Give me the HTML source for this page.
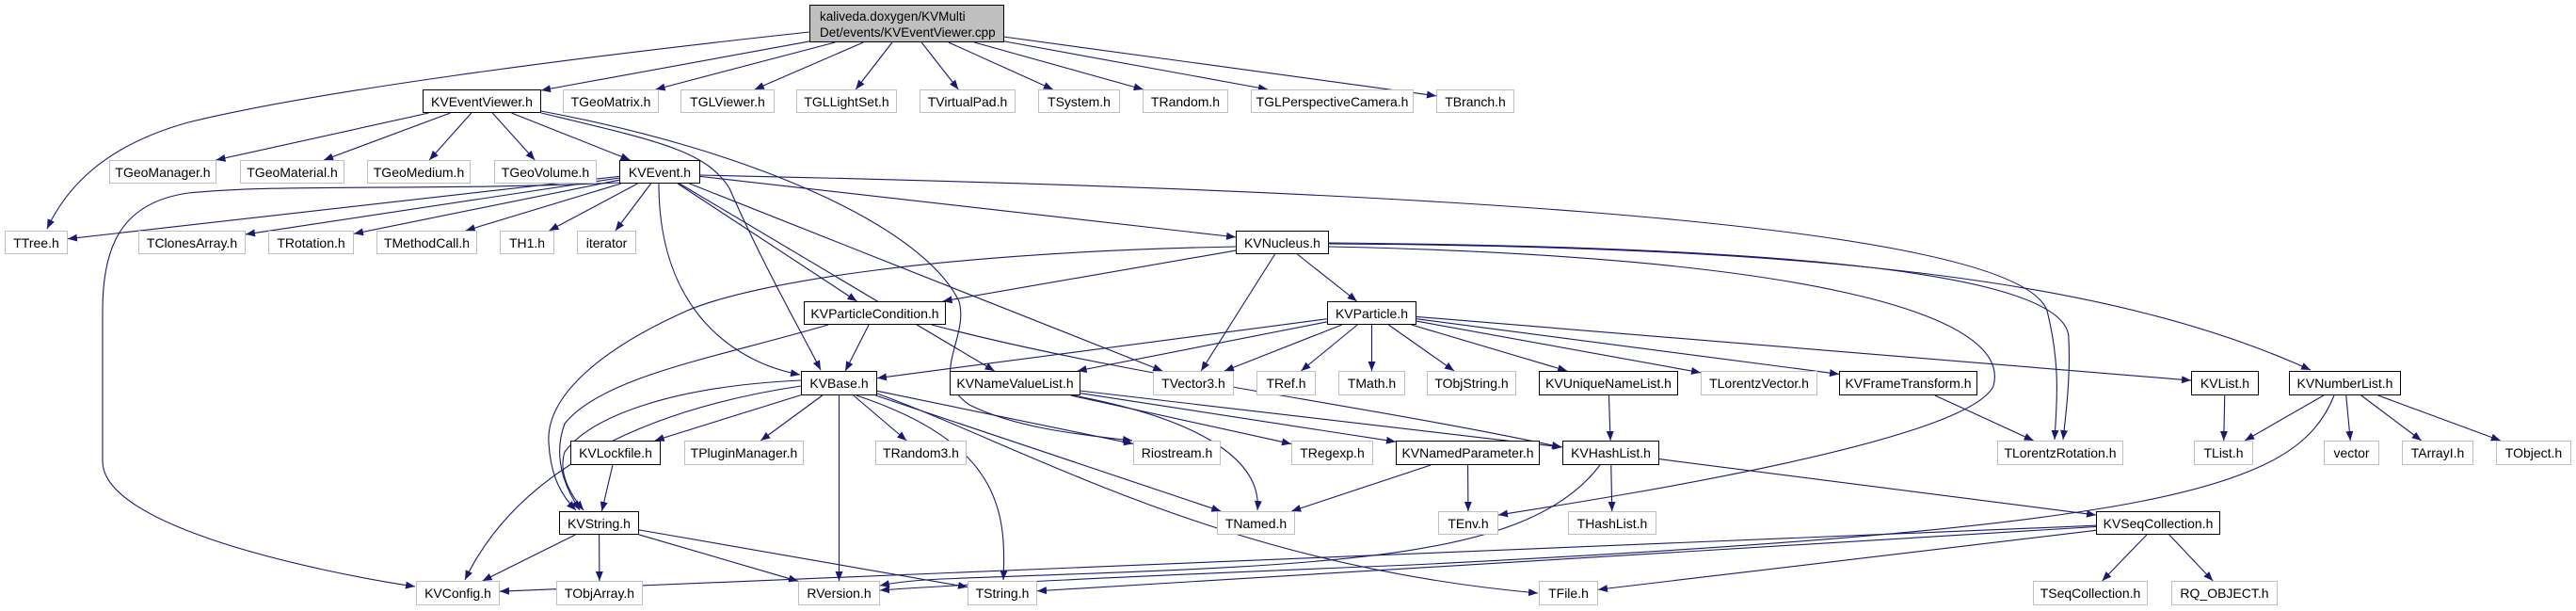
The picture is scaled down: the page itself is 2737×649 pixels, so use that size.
<!DOCTYPE html>
<html><head><meta charset="utf-8">
<style>
html,body{margin:0;padding:0;background:#fff;}
#c{position:relative;width:2737px;height:649px;overflow:hidden;background:#fff;}
svg{position:absolute;left:0;top:0;}
.n{position:absolute;box-sizing:border-box;border:1px solid #bfbfbf;background:#fff;font-family:"Liberation Sans",Arial,sans-serif;font-size:14px;color:#000;text-align:center;white-space:nowrap;display:flex;align-items:center;justify-content:center;}
.k{border:1px solid #000;}
</style></head><body>
<div id="c">
<svg id="s" width="2737" height="649" viewBox="0 0 2737 649">
<defs><marker id="a" markerWidth="10" markerHeight="8" refX="10" refY="4" orient="auto" markerUnits="userSpaceOnUse"><path d="M0,0 L10,4 L0,8 z" fill="#191970"/></marker></defs>
<g id="g" fill="none" stroke="#191970" stroke-width="1.1"></g>
</svg>
<div class="n k" style="left:860px;top:5px;width:207px;height:40px;background:#bfbfbf;display:block;text-align:left;padding:3px 0 0 10px;line-height:17px;font-size:13.5px">kaliveda.doxygen/KVMulti<br>Det/events/KVEventViewer.cpp</div>

<div class="n k" id="KVEventViewer" style="left:449px;top:95px;width:126px;height:25px">KVEventViewer.h</div>
<div class="n" id="TGeoMatrix" style="left:598px;top:95px;width:102px;height:25px">TGeoMatrix.h</div>
<div class="n" id="TGLViewer" style="left:723px;top:95px;width:100px;height:25px">TGLViewer.h</div>
<div class="n" id="TGLLightSet" style="left:846px;top:95px;width:107px;height:25px">TGLLightSet.h</div>
<div class="n" id="TVirtualPad" style="left:977px;top:95px;width:102px;height:25px">TVirtualPad.h</div>
<div class="n" id="TSystem" style="left:1103px;top:95px;width:87px;height:25px">TSystem.h</div>
<div class="n" id="TRandom" style="left:1214px;top:95px;width:91px;height:25px">TRandom.h</div>
<div class="n" id="TGLPerspectiveCamera" style="left:1329px;top:95px;width:173px;height:25px">TGLPerspectiveCamera.h</div>
<div class="n" id="TBranch" style="left:1526px;top:95px;width:83px;height:25px">TBranch.h</div>

<div class="n" id="TGeoManager" style="left:116px;top:170px;width:114px;height:25px">TGeoManager.h</div>
<div class="n" id="TGeoMaterial" style="left:255px;top:170px;width:111px;height:25px">TGeoMaterial.h</div>
<div class="n" id="TGeoMedium" style="left:390px;top:170px;width:110px;height:25px">TGeoMedium.h</div>
<div class="n" id="TGeoVolume" style="left:525px;top:170px;width:109px;height:25px">TGeoVolume.h</div>
<div class="n k" id="KVEvent" style="left:658px;top:170px;width:86px;height:25px">KVEvent.h</div>

<div class="n" id="TTree" style="left:5px;top:245px;width:67px;height:25px">TTree.h</div>
<div class="n" id="TClonesArray" style="left:147px;top:245px;width:114px;height:25px">TClonesArray.h</div>
<div class="n" id="TRotation" style="left:285px;top:245px;width:91px;height:25px">TRotation.h</div>
<div class="n" id="TMethodCall" style="left:400px;top:245px;width:107px;height:25px">TMethodCall.h</div>
<div class="n" id="TH1" style="left:531px;top:245px;width:58px;height:25px">TH1.h</div>
<div class="n" id="iterator" style="left:613px;top:245px;width:63px;height:25px">iterator</div>
<div class="n k" id="KVNucleus" style="left:1313px;top:245px;width:99px;height:25px">KVNucleus.h</div>

<div class="n k" id="KVParticleCondition" style="left:854px;top:320px;width:151px;height:25px">KVParticleCondition.h</div>
<div class="n k" id="KVParticle" style="left:1410px;top:320px;width:95px;height:25px">KVParticle.h</div>

<div class="n k" id="KVBase" style="left:851px;top:394px;width:81px;height:26px">KVBase.h</div>
<div class="n k" id="KVNameValueList" style="left:1009px;top:394px;width:139px;height:26px">KVNameValueList.h</div>
<div class="n" id="TVector3" style="left:1225px;top:394px;width:86px;height:26px">TVector3.h</div>
<div class="n" id="TRef" style="left:1335px;top:394px;width:63px;height:26px">TRef.h</div>
<div class="n" id="TMath" style="left:1422px;top:394px;width:71px;height:26px">TMath.h</div>
<div class="n" id="TObjString" style="left:1516px;top:394px;width:95px;height:26px">TObjString.h</div>
<div class="n k" id="KVUniqueNameList" style="left:1635px;top:394px;width:148px;height:26px">KVUniqueNameList.h</div>
<div class="n" id="TLorentzVector" style="left:1807px;top:394px;width:124px;height:26px">TLorentzVector.h</div>
<div class="n k" id="KVFrameTransform" style="left:1954px;top:394px;width:147px;height:26px">KVFrameTransform.h</div>
<div class="n k" id="KVList" style="left:2328px;top:394px;width:72px;height:26px">KVList.h</div>
<div class="n k" id="KVNumberList" style="left:2432px;top:394px;width:119px;height:26px">KVNumberList.h</div>

<div class="n k" id="KVLockfile" style="left:606px;top:468px;width:96px;height:26px">KVLockfile.h</div>
<div class="n" id="TPluginManager" style="left:727px;top:468px;width:127px;height:26px">TPluginManager.h</div>
<div class="n" id="TRandom3" style="left:930px;top:468px;width:97px;height:26px">TRandom3.h</div>
<div class="n" id="Riostream" style="left:1204px;top:468px;width:93px;height:26px">Riostream.h</div>
<div class="n" id="TRegexp" style="left:1372px;top:468px;width:87px;height:26px">TRegexp.h</div>
<div class="n k" id="KVNamedParameter" style="left:1483px;top:468px;width:153px;height:26px">KVNamedParameter.h</div>
<div class="n k" id="KVHashList" style="left:1660px;top:468px;width:103px;height:26px">KVHashList.h</div>
<div class="n" id="TLorentzRotation" style="left:2122px;top:468px;width:134px;height:26px">TLorentzRotation.h</div>
<div class="n" id="TList" style="left:2331px;top:468px;width:63px;height:26px">TList.h</div>
<div class="n" id="vector" style="left:2469px;top:468px;width:59px;height:26px">vector</div>
<div class="n" id="TArrayI" style="left:2552px;top:468px;width:76px;height:26px">TArrayI.h</div>
<div class="n" id="TObject" style="left:2652px;top:468px;width:80px;height:26px">TObject.h</div>

<div class="n k" id="KVString" style="left:594px;top:543px;width:85px;height:25px">KVString.h</div>
<div class="n" id="TNamed" style="left:1293px;top:543px;width:83px;height:25px">TNamed.h</div>
<div class="n" id="TEnv" style="left:1528px;top:543px;width:64px;height:25px">TEnv.h</div>
<div class="n" id="THashList" style="left:1666px;top:543px;width:94px;height:25px">THashList.h</div>
<div class="n k" id="KVSeqCollection" style="left:2227px;top:543px;width:132px;height:25px">KVSeqCollection.h</div>

<div class="n" id="KVConfig" style="left:442px;top:617px;width:89px;height:26px">KVConfig.h</div>
<div class="n" id="TObjArray" style="left:591px;top:617px;width:92px;height:26px">TObjArray.h</div>
<div class="n" id="RVersion" style="left:848px;top:617px;width:87px;height:26px">RVersion.h</div>
<div class="n" id="TString" style="left:1028px;top:617px;width:74px;height:26px">TString.h</div>
<div class="n" id="TFile" style="left:1635px;top:617px;width:63px;height:26px">TFile.h</div>
<div class="n" id="TSeqCollection" style="left:2160px;top:617px;width:122px;height:26px">TSeqCollection.h</div>
<div class="n" id="RQ_OBJECT" style="left:2307px;top:617px;width:113px;height:26px">RQ_OBJECT.h</div>
</div>
<script>
var N={};
document.querySelectorAll('.n').forEach(function(e){var x=parseFloat(e.style.left),y=parseFloat(e.style.top),w=parseFloat(e.style.width),h=parseFloat(e.style.height);N[e.id||'ROOT']=[x,y,x+w,y+h];});
function clip(b,px,py){var cx=(b[0]+b[2])/2,cy=(b[1]+b[3])/2,dx=px-cx,dy=py-cy;var hw=(b[2]-b[0])/2,hh=(b[3]-b[1])/2;var t=Math.min(dx?hw/Math.abs(dx):1e9,dy?hh/Math.abs(dy):1e9);return [cx+dx*t,cy+dy*t];}
var E=[
['ROOT','KVEventViewer'],['ROOT','TGeoMatrix'],['ROOT','TGLViewer'],['ROOT','TGLLightSet'],['ROOT','TVirtualPad'],['ROOT','TSystem'],['ROOT','TRandom'],['ROOT','TGLPerspectiveCamera'],['ROOT','TBranch'],
['KVEventViewer','TGeoManager'],['KVEventViewer','TGeoMaterial'],['KVEventViewer','TGeoMedium'],['KVEventViewer','TGeoVolume'],['KVEventViewer','KVEvent'],
['KVEvent','TTree'],['KVEvent','TClonesArray'],['KVEvent','TRotation'],['KVEvent','TMethodCall'],['KVEvent','TH1'],['KVEvent','iterator'],['KVEvent','KVNucleus'],['KVEvent','KVParticleCondition'],['KVEvent','KVNameValueList'],['KVEvent','TVector3'],
['KVNucleus','KVParticleCondition'],['KVNucleus','KVParticle'],['KVNucleus','TVector3'],
['KVParticleCondition','KVBase'],
['KVParticle','KVBase'],['KVParticle','KVNameValueList'],['KVParticle','TVector3'],['KVParticle','TRef'],['KVParticle','TMath'],['KVParticle','TObjString'],['KVParticle','KVUniqueNameList'],['KVParticle','TLorentzVector'],['KVParticle','KVFrameTransform'],['KVParticle','KVList'],
['KVBase','KVLockfile'],['KVBase','TPluginManager'],['KVBase','TRandom3'],['KVBase','RVersion'],['KVBase','Riostream'],['KVBase','TNamed'],
['KVNameValueList','TRegexp'],['KVNameValueList','KVNamedParameter'],['KVNameValueList','KVHashList'],
['KVUniqueNameList','KVHashList'],['KVFrameTransform','TLorentzRotation'],
['KVList','TList'],['KVNumberList','TList'],['KVNumberList','vector'],['KVNumberList','TArrayI'],['KVNumberList','TObject'],
['KVLockfile','KVString'],['KVString','KVConfig'],['KVString','TObjArray'],['KVString','RVersion'],['KVString','TString'],
['KVNamedParameter','TNamed'],['KVNamedParameter','TEnv'],['KVHashList','THashList'],['KVHashList','KVSeqCollection'],
['KVSeqCollection','TSeqCollection'],['KVSeqCollection','RQ_OBJECT'],['KVSeqCollection','KVConfig'],['KVSeqCollection','TString'],['KVSeqCollection','TFile']
];
var P=[
'M860,34 C 600,62 330,98 200,130 C 110,155 70,200 50,243',
'M658,194 C 450,203 300,195 200,205 C 130,215 109,260 109,330 L109,490 C 109,560 340,608 441,623',
'M744,186 C 1400,200 2140,230 2175,330 C 2190,390 2185,430 2183,467',
'M1412,258 C 1900,262 2200,290 2198,360 C 2200,400 2195,440 2192,467',
'M1412,262 C 1900,272 2140,330 2118,410 C 2090,470 1700,530 1592,547',
'M1412,259 C 1950,262 2250,300 2455,393',
'M1313,262 C 1000,268 800,300 730,330 C 640,370 580,420 583,470 C 585,510 600,530 612,542',
'M575,120 C 700,150 750,160 775,200 C 810,280 850,350 872,393',
'M575,118 C 800,160 980,240 1019,320 C 1030,360 985,400 1030,430 C 1080,455 1150,462 1203,468',
'M700,195 C 700,330 780,385 850,398',
'M880,345 C 760,380 640,400 600,450 C 585,490 605,525 616,542',
'M851,404 C 720,410 630,440 600,480 C 592,505 610,530 620,542',
'M990,345 C 1200,400 1450,430 1659,475',
'M851,410 C 650,440 540,520 494,616',
'M932,418 C 1100,480 1300,600 1634,630',
'M910,420 C 1060,470 1070,540 1066,616',
'M1140,420 C 1300,450 1340,500 1336,542',
'M2480,420 C 2440,520 2300,560 1500,600 C 1200,612 1000,622 935,627',
'M1700,494 C 1620,600 1400,600 1000,615 C 960,617 945,620 935,622'
];
var g=document.getElementById('g'),ns='http://www.w3.org/2000/svg';
function add(d){var p=document.createElementNS(ns,'path');p.setAttribute('d',d);p.setAttribute('marker-end','url(#a)');g.appendChild(p);}
E.forEach(function(e){var a=N[e[0]],b=N[e[1]];var ac=[(a[0]+a[2])/2,(a[1]+a[3])/2],bc=[(b[0]+b[2])/2,(b[1]+b[3])/2];var s=clip(a,bc[0],bc[1]),t=clip(b,ac[0],ac[1]);add('M'+s[0]+','+s[1]+' L'+t[0]+','+t[1]);});
P.forEach(add);
</script>
</body></html>
